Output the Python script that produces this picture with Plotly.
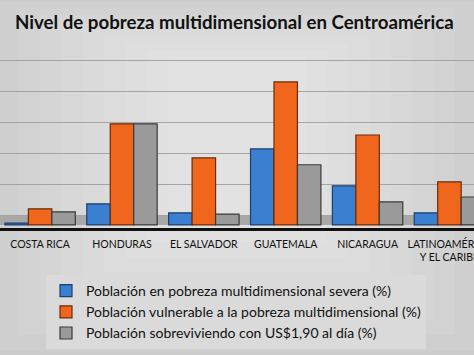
import plotly.graph_objects as go

categories = ["COSTA RICA", "HONDURAS", "EL SALVADOR", "GUATEMALA", "NICARAGUA", "LATINOAMÉRICA<br>Y EL CARIBE"]
severa = [0.6, 6.8, 3.9, 24.5, 12.6, 3.9]
vulnerable = [5.2, 32.6, 21.6, 46.1, 29.0, 13.9]
sobreviviendo = [4.2, 32.6, 3.5, 19.4, 7.4, 9.0]

series_names = [
    "Población en pobreza multidimensional severa (%)",
    "Población vulnerable a la pobreza multidimensional (%)",
    "Población sobreviviendo con US$1,90 al día (%)",
]
fills = ["#3a7fd0", "#ef661c", "#9a9a9a"]
edges = ["#1c3f70", "#6e2a08", "#3a3a3a"]

xpos = list(range(len(categories)))

fig = go.Figure()
for name, vals, fc, ec in zip(series_names, [severa, vulnerable, sobreviviendo], fills, edges):
    fig.add_trace(go.Bar(
        x=xpos, y=vals, name=name,
        marker=dict(color=fc, line=dict(color=ec, width=1.2)),
        hoverinfo="skip",
    ))

# soft radial-like background
shapes = []
steps = 10
for i in range(steps):
    f = i / steps
    shapes.append(dict(type="rect", xref="paper", yref="paper", layer="below",
                       x0=-0.05 + f * 0.45, x1=1.05 - f * 0.45,
                       y0=-0.8 + f * 0.9, y1=1.35 - f * 0.4,
                       fillcolor="white", opacity=0.07, line=dict(width=0)))
# floor strip
shapes.append(dict(type="rect", xref="paper", yref="y", layer="below",
                   x0=0, x1=1, y0=0, y1=3, fillcolor="#a8a8a8", line=dict(width=0)))

fig.update_layout(
    width=474, height=355,
    margin=dict(l=0, r=0, t=55, b=127),
    paper_bgcolor="#c9c9c9",
    plot_bgcolor="rgba(0,0,0,0)",
    barmode="group", bargap=0.14, bargroupgap=0.0,
    shapes=shapes,
    title=dict(text="<b>Nivel de pobreza multidimensional en Centroamérica</b>",
               x=15 / 474, xanchor="left", xref="container", y=1 - 22 / 355, yanchor="middle",
               yref="container",
               font=dict(family="Lato", size=18.7, color="#111111")),
    font=dict(family="Lato", color="#111111"),
    xaxis=dict(range=[-0.49, 5.3], tickvals=xpos, ticktext=categories,
               showgrid=False, zeroline=False, showline=True, linecolor="#111111", linewidth=3,
               ticks="", tickfont=dict(size=10.5, color="#111111"), automargin=False, fixedrange=True,
               ticklabeloverflow="allow", ticklabelstandoff=4),
    yaxis=dict(range=[-1, 54.8], tick0=3, dtick=10, showticklabels=False,
               showgrid=True, gridcolor="#a4a4a4", gridwidth=1.2, zeroline=False,
               automargin=False, fixedrange=True),
    legend=dict(x=46 / 474, y=(228 - 275) / 173, xanchor="left", yanchor="top",
                bgcolor="#dadada", font=dict(family="Lato", size=14, color="#111111"),
                traceorder="normal", itemclick=False),
    showlegend=True,
)

fig.write_html("out.html", config={"displayModeBar": False},
               post_script="document.body.style.margin='0';document.body.style.overflow='hidden';")
